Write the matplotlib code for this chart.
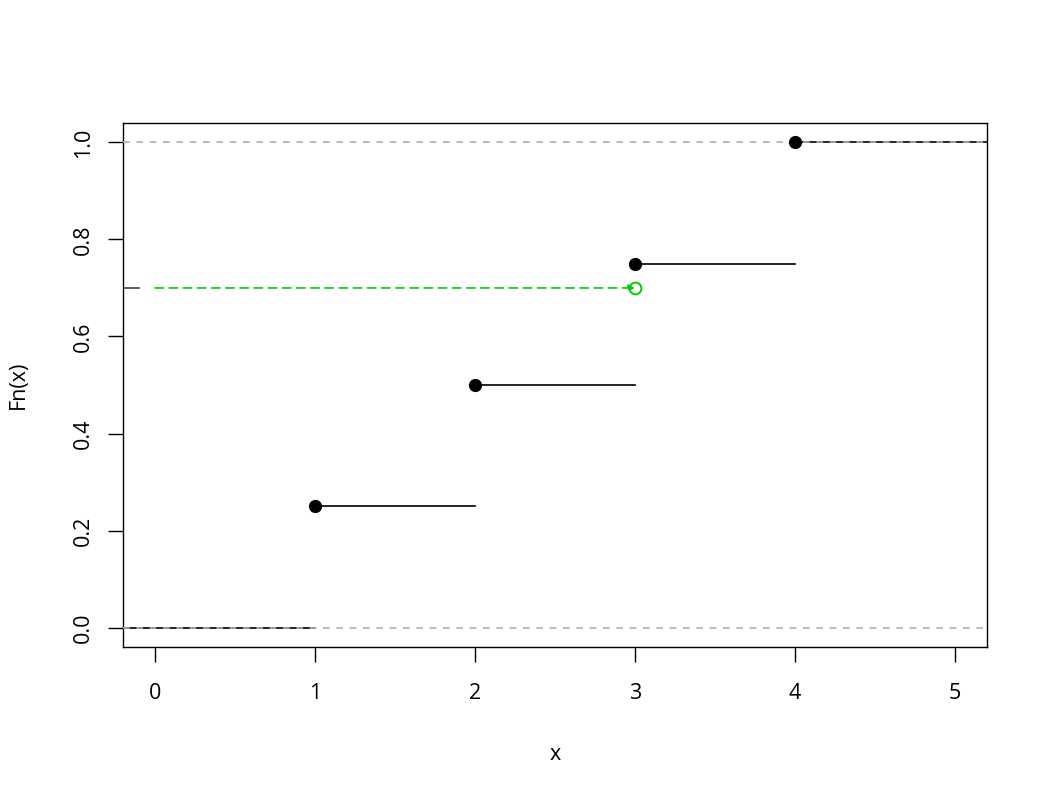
import matplotlib
matplotlib.use("Agg")
import matplotlib.pyplot as plt

plt.rcParams['font.family'] = ['Open Sans', 'DejaVu Sans']

knots = [1, 2, 3, 4]
fn_vals = [0.25, 0.5, 0.75, 1.0]
x_ticks = [0, 1, 2, 3, 4, 5]
y_ticks = [0.0, 0.2, 0.4, 0.6, 0.8, 1.0]
y_tick_labels = ["0.0", "0.2", "0.4", "0.6", "0.8", "1.0"]
query_x = 3
query_p = 0.7
xlim = (-0.2, 5.2)
ylim = (-0.04, 1.04)

fig = plt.figure(figsize=(10.5, 8), dpi=100)
ax = fig.add_axes([123/1050, 153/800, (987-123)/1050, (647-123)/800])
ax.set_xlim(*xlim)
ax.set_ylim(*ylim)

# reference lines
for h in (0, 1):
    ax.axhline(h, color='#B0B0B0', lw=1.2, ls=(0, (4, 4)), zorder=3)

# ECDF steps
ax.plot([xlim[0], knots[0]], [0, 0], color='black', lw=1.2, zorder=2)
for i, k in enumerate(knots):
    nxt = knots[i + 1] if i + 1 < len(knots) else xlim[1]
    ax.plot([k, nxt], [fn_vals[i], fn_vals[i]], color='black', lw=1.2, zorder=2)
ax.plot(knots, fn_vals, 'o', color='black', ms=8.5, zorder=4)

# quantile indicator
ax.plot([xlim[0], -0.1], [query_p, query_p], color='#404040', lw=1.2)
ax.annotate('', xy=(query_x, query_p), xytext=(0, query_p),
            arrowprops=dict(arrowstyle='-|>', color='#00CD00', lw=1.2,
                            ls=(0, (5, 3.5)), mutation_scale=9,
                            shrinkA=0, shrinkB=0))
ax.plot([query_x], [query_p], 'o', mfc='none', mec='#00CD00', mew=1.4, ms=8.5, zorder=5)

ax.set_xticks(x_ticks)
ax.set_xticklabels([str(v) for v in x_ticks])
ax.set_yticks(y_ticks)
ax.set_yticklabels(y_tick_labels, rotation=90, va='center')
ax.tick_params(direction='out', length=10.8, width=1, labelsize=15.5)
ax.tick_params(axis='x', pad=15)
ax.tick_params(axis='y', pad=10)
for s in ax.spines.values():
    s.set_linewidth(1)
ax.set_xlabel('x', fontsize=15.5, labelpad=29)
ax.set_ylabel('Fn(x)', fontsize=15.5, labelpad=32)

fig.savefig('out.png', dpi=100)
